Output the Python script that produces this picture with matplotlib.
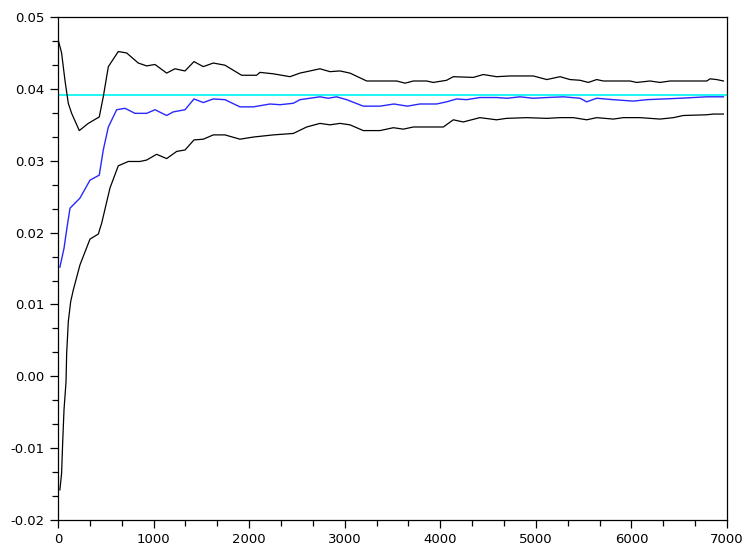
import numpy as np
import matplotlib
matplotlib.use("Agg")
import matplotlib.pyplot as plt
from matplotlib.ticker import MultipleLocator

# ── Data ──────────────────────────────────────────────────────────
mean_x = [20, 63, 91, 126, 230, 335, 432, 474, 527, 614, 701, 806, 928, 1015,
          1137, 1206, 1329, 1423, 1520, 1625, 1747, 1904, 2044, 2218, 2323,
          2462, 2532, 2741, 2828, 2915, 3020, 3194, 3369, 3515, 3655, 3787,
          3961, 4066, 4170, 4275, 4414, 4589, 4700, 4833, 4973, 5114, 5287,
          5462, 5532, 5636, 5810, 6020, 6160, 6508, 6788, 6962]
mean_y = [0.0152, 0.0178, 0.0204, 0.0234, 0.0248, 0.0273, 0.0280, 0.0315,
          0.0347, 0.0371, 0.0373, 0.0366, 0.0366, 0.0371, 0.0363, 0.0368,
          0.0371, 0.0386, 0.0381, 0.0386, 0.0385, 0.0375, 0.0375, 0.0379,
          0.0378, 0.0380, 0.0385, 0.0389, 0.0387, 0.0389, 0.0385, 0.0376,
          0.0376, 0.0379, 0.0376, 0.0379, 0.0379, 0.0382, 0.0386, 0.0385,
          0.0388, 0.0388, 0.0387, 0.0389, 0.0387, 0.0388, 0.0389, 0.0387,
          0.0382, 0.0387, 0.0385, 0.0383, 0.0385, 0.0387, 0.0389, 0.0389]

upper_x = [5, 38, 73, 108, 143, 223, 317, 432, 474, 527, 631, 719, 840, 928,
           1015, 1137, 1224, 1329, 1423, 1520, 1625, 1747, 1921, 2078, 2113,
           2253, 2427, 2532, 2602, 2741, 2846, 2950, 3055, 3230, 3544, 3631,
           3718, 3857, 3927, 4066, 4136, 4345, 4449, 4589, 4728, 4973, 5114,
           5253, 5357, 5462, 5549, 5636, 5706, 5985, 6055, 6194, 6299, 6403,
           6788, 6822, 6892, 6962]
upper_y = [0.0467, 0.0450, 0.0412, 0.0380, 0.0366, 0.0342, 0.0352, 0.0361,
           0.0389, 0.0431, 0.0452, 0.0450, 0.0436, 0.0432, 0.0434, 0.0422,
           0.0428, 0.0425, 0.0438, 0.0431, 0.0436, 0.0433, 0.0419, 0.0419,
           0.0423, 0.0421, 0.0417, 0.0422, 0.0424, 0.0428, 0.0424, 0.0425,
           0.0422, 0.0411, 0.0411, 0.0408, 0.0411, 0.0411, 0.0409, 0.0412,
           0.0417, 0.0416, 0.0420, 0.0417, 0.0418, 0.0418, 0.0413, 0.0417,
           0.0413, 0.0412, 0.0409, 0.0413, 0.0411, 0.0411, 0.0409, 0.0411,
           0.0409, 0.0411, 0.0411, 0.0414, 0.0413, 0.0411]

lower_x = [20, 38, 49, 63, 84, 91, 108, 133, 160, 230, 335, 422, 457, 544,
           631, 736, 858, 928, 1032, 1137, 1242, 1329, 1423, 1520, 1625, 1747,
           1904, 2044, 2253, 2462, 2602, 2741, 2846, 2950, 3055, 3194, 3369,
           3509, 3613, 3718, 4032, 4136, 4240, 4414, 4589, 4693, 4903, 5114,
           5253, 5392, 5532, 5636, 5810, 5915, 6090, 6299, 6438, 6543, 6788,
           6858, 6962]
lower_y = [-0.0158, -0.0135, -0.0093, -0.0047, -0.0008, 0.0032, 0.0076,
           0.0104, 0.0120, 0.0155, 0.0191, 0.0198, 0.0213, 0.0262, 0.0293,
           0.0299, 0.0299, 0.0301, 0.0309, 0.0303, 0.0313, 0.0315, 0.0329,
           0.0330, 0.0336, 0.0336, 0.0330, 0.0333, 0.0336, 0.0338, 0.0347,
           0.0352, 0.0350, 0.0352, 0.0350, 0.0342, 0.0342, 0.0346, 0.0344,
           0.0347, 0.0347, 0.0357, 0.0354, 0.0360, 0.0357, 0.0359, 0.0360,
           0.0359, 0.0360, 0.0360, 0.0357, 0.0360, 0.0358, 0.0360, 0.0360,
           0.0358, 0.0360, 0.0363, 0.0364, 0.0365, 0.0365]

target_x = [0, 7000]
target_y = [0.0391, 0.0391]

# ── Figure ────────────────────────────────────────────────────────
fig = plt.figure(figsize=(7.48, 5.5), dpi=100)
ax = fig.add_axes([0.0775, 0.0545, 0.8945, 0.9145])

ax.plot(target_x, target_y, color="#1ef5f5", lw=1.4)
ax.plot(upper_x, upper_y, color="black", lw=0.9)
ax.plot(lower_x, lower_y, color="black", lw=0.9)
ax.plot(mean_x, mean_y, color="#2828ff", lw=1.0)

ax.set_xlim(0, 7000)
ax.set_ylim(-0.02, 0.05)
ax.xaxis.set_major_locator(MultipleLocator(1000))
ax.xaxis.set_minor_locator(MultipleLocator(1000 / 3))
ax.yaxis.set_major_locator(MultipleLocator(0.01))
ax.yaxis.set_minor_locator(MultipleLocator(0.01 / 3))
ax.yaxis.set_major_formatter(plt.FuncFormatter(lambda v, p: f"{v:.2f}"))

ax.tick_params(which="both", direction="out", top=False, right=False,
               width=0.9, labelsize=9.5, colors="black")
ax.tick_params(which="major", length=6)
ax.tick_params(which="minor", length=4)
for s in ax.spines.values():
    s.set_linewidth(0.9)

plt.savefig("out.png", dpi=100)
